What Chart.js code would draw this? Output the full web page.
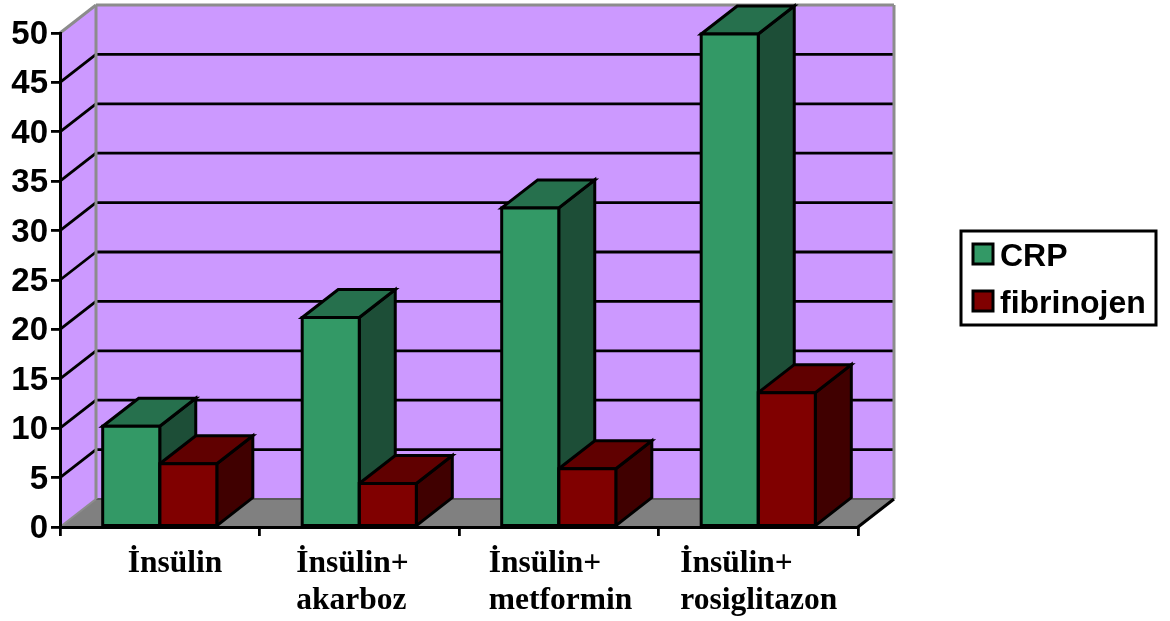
<!DOCTYPE html>
<html>
<head>
<meta charset="utf-8">
<title>CRP fibrinojen</title>
<script src="https://cdn.jsdelivr.net/npm/chart.js@4"></script>
<style>
  html, body { margin: 0; padding: 0; background: #fff; }
  canvas { display: block; }
</style>
</head>
<body>
<canvas id="grafico" width="1170" height="621"></canvas>
<script>
const categorias = [['İnsülin'], ['İnsülin+', 'akarboz'], ['İnsülin+', 'metformin'], ['İnsülin+', 'rosiglitazon']];
const crp = [10.2, 21.2, 32.3, 49.9];
const fibrinojen = [6.4, 4.4, 5.9, 13.6];
const marcasY = [0, 50];

// 3d look of the old chart: how far the back wall sits from the front plane
const fondoX = 36;
const fondoY = 28;
const lila = '#CC99FF';
const gris = '#808080';
const grisBorde = '#8C8C8C';
const colores = [
  { frente: '#339966', arriba: '#26704D', lado: '#1D4E37' },
  { frente: '#800000', arriba: '#600000', lado: '#400000' }
];
// the category labels are left aligned and not centred under the bars
const desplazoEtiqueta = [-32, -63, -70, -78];

function poligono(ctx, puntos, relleno, borde, ancho) {
  ctx.beginPath();
  puntos.forEach((p, i) => i ? ctx.lineTo(p[0], p[1]) : ctx.moveTo(p[0], p[1]));
  ctx.closePath();
  if (relleno) {
    ctx.fillStyle = relleno;
    ctx.fill();
  }
  if (borde) {
    ctx.strokeStyle = borde;
    ctx.lineWidth = ancho;
    ctx.lineJoin = 'miter';
    ctx.stroke();
  }
}

function linea(ctx, x1, y1, x2, y2, color, ancho) {
  ctx.beginPath();
  ctx.moveTo(x1, y1);
  ctx.lineTo(x2, y2);
  ctx.strokeStyle = color;
  ctx.lineWidth = ancho;
  ctx.stroke();
}

const paredes = {
  id: 'paredes',
  beforeDraw(chart) {
    const { ctx, chartArea: a, scales: { y } } = chart;
    ctx.save();
    const t = a.top, b = a.bottom, l = a.left, r = a.right;
    poligono(ctx, [[l, b], [l + fondoX, b - fondoY], [l + fondoX, t - fondoY], [l, t]], lila);
    poligono(ctx, [[l + fondoX, t - fondoY], [r + fondoX, t - fondoY], [r + fondoX, b - fondoY], [l + fondoX, b - fondoY]], lila);
    y.ticks.forEach(tick => {
      if (tick.value === 0) return;
      const py = y.getPixelForValue(tick.value);
      if (tick.value < 50) {
        linea(ctx, l, py, l + fondoX, py - fondoY, '#000', 2.8);
        linea(ctx, l + fondoX, py - fondoY, r + fondoX, py - fondoY, '#000', 2.8);
      }
    });
    poligono(ctx, [[l, b], [l + fondoX, b - fondoY], [r + fondoX, b - fondoY], [r, b]], gris);
    linea(ctx, l + fondoX, b - fondoY, r + fondoX, b - fondoY, '#5A5A5A', 2);
    linea(ctx, l, b, l + fondoX, b - fondoY, grisBorde, 2);
    linea(ctx, l + fondoX, t - fondoY, l + fondoX, b - fondoY, grisBorde, 3);
    linea(ctx, l, t, l + fondoX, t - fondoY, grisBorde, 3);
    linea(ctx, l + fondoX, t - fondoY, r + fondoX, t - fondoY, grisBorde, 3);
    linea(ctx, r + fondoX, t - fondoY, r + fondoX, b - fondoY, grisBorde, 3);
    linea(ctx, r, b, r + fondoX, b - fondoY, '#000', 3);
    ctx.restore();
  }
};

const caras = {
  id: 'caras',
  beforeDatasetsDraw(chart) {
    const ctx = chart.ctx;
    ctx.save();
    chart.data.datasets.forEach((ds, d) => {
      chart.getDatasetMeta(d).data.forEach(bar => {
        const izq = bar.x - bar.width / 2;
        const der = bar.x + bar.width / 2;
        poligono(ctx, [[der, bar.y], [der + fondoX, bar.y - fondoY], [der + fondoX, bar.base - fondoY], [der, bar.base]], colores[d].lado, '#000', 3);
        poligono(ctx, [[izq, bar.y], [izq + fondoX, bar.y - fondoY], [der + fondoX, bar.y - fondoY], [der, bar.y]], colores[d].arriba, '#000', 3);
      });
    });
    ctx.restore();
  },
  // chart.js insets bar borders, which doubles the line between two touching bars
  afterDatasetsDraw(chart) {
    const ctx = chart.ctx;
    ctx.save();
    chart.data.datasets.forEach((ds, d) => {
      chart.getDatasetMeta(d).data.forEach(bar => {
        const izq = bar.x - bar.width / 2;
        const der = bar.x + bar.width / 2;
        poligono(ctx, [[izq, bar.y], [der, bar.y], [der, bar.base], [izq, bar.base]], null, '#000', 3);
      });
    });
    ctx.restore();
  }
};

const textos = {
  id: 'textos',
  afterDraw(chart) {
    const { ctx, scales: { x } } = chart;
    ctx.save();
    ctx.fillStyle = '#000';
    ctx.textAlign = 'left';
    ctx.textBaseline = 'alphabetic';
    ctx.font = 'bold 31.5px "Liberation Serif"';
    categorias.forEach((lineas, i) => {
      lineas.forEach((txt, n) => {
        ctx.fillText(txt, x.getPixelForValue(i) + desplazoEtiqueta[i], 572 + n * 37);
      });
    });
    // legend box
    ctx.fillStyle = '#fff';
    ctx.strokeStyle = '#000';
    ctx.lineWidth = 3;
    ctx.fillRect(961, 231, 195, 94);
    ctx.strokeRect(961, 231, 195, 94);
    ctx.font = 'bold 32px "Liberation Sans"';
    chart.data.datasets.forEach((ds, d) => {
      const fila = 244 + d * 47;
      ctx.fillStyle = ds.backgroundColor;
      ctx.fillRect(973, fila, 20, 20);
      ctx.strokeRect(973, fila, 20, 20);
      ctx.fillStyle = '#000';
      ctx.fillText(ds.label, 1000, fila + 22);
    });
    ctx.restore();
  }
};

const grafico = new Chart(document.getElementById('grafico').getContext('2d'), {
  type: 'bar',
  data: {
    labels: categorias,
    datasets: [
      { label: 'CRP', data: crp, backgroundColor: colores[0].frente, borderWidth: 0 },
      { label: 'fibrinojen', data: fibrinojen, backgroundColor: colores[1].frente, borderWidth: 0 }
    ]
  },
  options: {
    responsive: false,
    animation: false,
    layout: { padding: { top: 33, right: 312, left: 0, bottom: 0 } },
    categoryPercentage: 0.572,
    barPercentage: 1,
    plugins: { legend: { display: false }, tooltip: { enabled: false } },
    scales: {
      x: {
        offset: true,
        afterFit: s => { s.height = 94; },
        ticks: { display: false },
        grid: { offset: true, drawOnChartArea: false, color: '#000', lineWidth: 2.8, tickLength: 9, tickColor: '#000', tickWidth: 2.8 },
        border: { color: '#000', width: 3 }
      },
      y: {
        min: marcasY[0],
        max: marcasY[1],
        afterFit: s => { s.width = 60; },
        ticks: { stepSize: 5, color: '#000', padding: 3, labelOffset: 2, font: { family: '"Liberation Sans"', size: 33, weight: 'bold' } },
        grid: { drawOnChartArea: false, color: '#000', lineWidth: 2.8, tickLength: 9 },
        border: { color: '#000', width: 3 }
      }
    }
  },
  plugins: [paredes, caras, textos]
});
</script>
</body>
</html>
